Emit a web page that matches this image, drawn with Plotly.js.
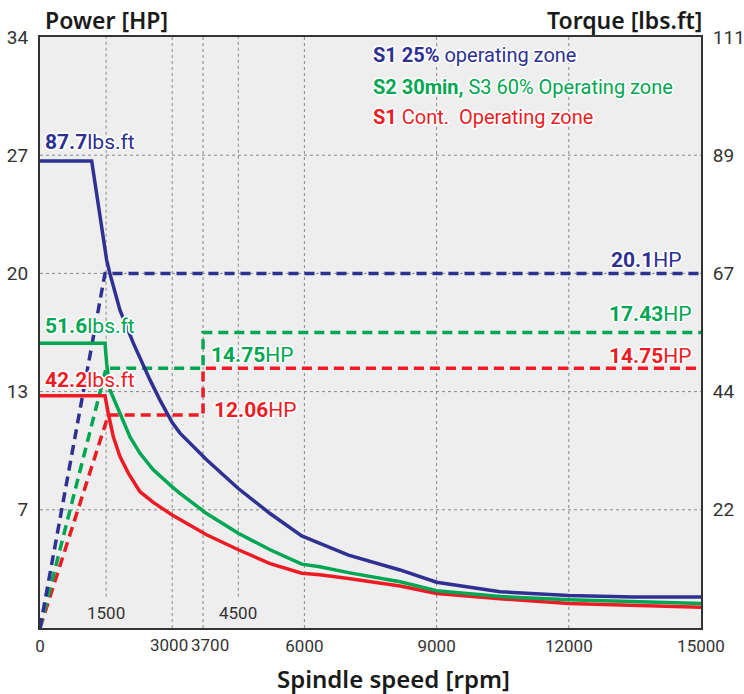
<!DOCTYPE html>
<html>
<head>
<meta charset="utf-8">
<script src="https://cdn.plot.ly/plotly-3.0.1.min.js"></script>
<style>body{margin:0;background:#fff}#chart{width:744px;height:694px}</style>
</head>
<body>
<div id="chart"></div>
<script>
// ---- data ----
const speedTorqueS1 = [0,1173,1513,1588,1815,2118,2496,2723,3000,3177,3780,4500,5220,5940,6350,7000,8170,9000,10440,12000,13460,15000];
const torqueS1 = [87.7,87.7,69.1,66.5,59.7,53.5,46.6,42.8,38.6,36.6,31.6,26.2,21.5,17.3,15.9,13.7,10.9,8.6,6.8,6.1,5.8,5.8];
const speedTorqueS2 = [0,1475,1513,1588,1815,2042,2269,2571,3000,3177,3780,4500,5220,5940,6350,7000,8170,9000,10440,12000,15000];
const torqueS2 = [53.5,53.5,49.7,44.7,40.3,35.9,32.8,29.7,26.5,25.3,21.5,17.8,14.7,12.0,11.5,10.4,8.7,7.0,5.9,5.3,4.6];
const speedTorqueCont = [0,1475,1550,1664,1815,2004,2269,2571,3000,3780,4500,5220,5940,6350,7000,8170,9000,10440,12000,15000];
const torqueCont = [43.6,43.6,40.3,35.9,32.2,29.1,25.6,23.6,21.2,17.5,14.7,12.1,10.3,10.0,9.3,7.9,6.5,5.5,4.6,3.9];

const speedPowerS1 = [0,1475,15000];
const powerS1 = [0,20.4,20.4];
const speedPowerS2 = [0,1500,3700,3700,15000];
const powerS2 = [0,14.94,14.94,17.0,17.0];
const speedPowerCont = [0,1550,3700,3700,15000];
const powerCont = [0,12.25,12.25,14.94,14.94];

const xTickVals = [0,6000,9000,12000,15000];
const xTickText = ['0','6000','9000','12000','15000'];
const xCloseTicks = [3000,3700];
const xInnerTicks = [1500,4500];
const xGrid = [1500,3000,3700,4500,6000,9000,12000];
const powerTickVals = [6.8,13.6,20.4,27.2,34];
const powerTickText = ['7','13','20','27','34'];
const torqueTickVals = [22.2,44.4,66.6,88.8,111];
const torqueTickText = ['22','44','67','89','111'];

// ---- styles ----
const BLUE = '#2e3192', GREEN = '#00a651', RED = '#ed1c24';
const FONT = '"Roboto", "Noto Sans", sans-serif';
const TITLEFONT = '"Noto Sans", "Open Sans", sans-serif';
const HALO = '1px 1px 0 #fff, -1px -1px 0 #fff, 1px -1px 0 #fff, -1px 1px 0 #fff, 0 2px 0 #fff, 0 -2px 0 #fff, 2px 0 0 #fff, -2px 0 0 #fff';
const DASH = '10px,6px';
const TICKFONT = {family:FONT, size:17, color:'#333'};

const traces = [
  {x: speedPowerCont, y: powerCont, mode:'lines', line:{color:RED, width:3.5, dash:DASH}, yaxis:'y'},
  {x: speedPowerS2, y: powerS2, mode:'lines', line:{color:GREEN, width:3.5, dash:DASH}, yaxis:'y'},
  {x: speedPowerS1, y: powerS1, mode:'lines', line:{color:BLUE, width:3.5, dash:DASH}, yaxis:'y'},
  {x: speedTorqueCont, y: torqueCont, mode:'lines', line:{color:RED, width:3.5}, yaxis:'y2'},
  {x: speedTorqueS2, y: torqueS2, mode:'lines', line:{color:GREEN, width:3.5}, yaxis:'y2'},
  {x: speedTorqueS1, y: torqueS1, mode:'lines', line:{color:BLUE, width:3.5}, yaxis:'y2'}
];

const shapes = [];
xGrid.forEach(v => {
  shapes.push({type:'line', xref:'x', yref:'y', x0:v, x1:v, y0: xInnerTicks.includes(v) ? 1.8 : 0, y1:34,
    line:{color:'#888', width:1, dash:'3px,3px'}, layer:'below'});
});
powerTickVals.slice(0,4).forEach(v => {
  shapes.push({type:'line', xref:'x', yref:'y', x0:0, x1:15000, y0:v, y1:v,
    line:{color:'#888', width:1, dash:'3px,3px'}, layer:'below'});
});

function ann(text, x, y, color, xanchor, size, extra) {
  return Object.assign({text, x, y, xref:'paper', yref:'paper', xanchor, yanchor:'middle', showarrow:false,
    font:{family:FONT, size:size, color:color, shadow:HALO}}, extra||{});
}
// paper coords helpers: plot area x 40..701, y 37..628
const px = p => (p-40)/661;
const py = p => (628-p)/591;

const annotations = [
  {text:'Power [HP]', x:px(43), y:py(20), xref:'paper', yref:'paper', xanchor:'left', yanchor:'middle', showarrow:false, font:{family:TITLEFONT, size:23, weight:600, color:'#1a1a1a'}},
  {text:'Torque [lbs.ft]', x:px(704), y:py(20), xref:'paper', yref:'paper', xanchor:'right', yanchor:'middle', showarrow:false, font:{family:TITLEFONT, size:23, weight:600, color:'#1a1a1a'}},
  {text:'Spindle speed [rpm]', x:px(393), y:py(678), xref:'paper', yref:'paper', xanchor:'center', yanchor:'middle', showarrow:false, font:{family:TITLEFONT, size:24, weight:600, color:'#1a1a1a'}},
  {text:String(xInnerTicks[0]), x:xInnerTicks[0], y:py(613), xref:'x', yref:'paper', xanchor:'center', yanchor:'middle', showarrow:false, font:TICKFONT},
  {text:String(xInnerTicks[1]), x:xInnerTicks[1], y:py(613), xref:'x', yref:'paper', xanchor:'center', yanchor:'middle', showarrow:false, font:TICKFONT},
  {text:String(xCloseTicks[0]), x:xCloseTicks[0], y:py(645), xref:'x', yref:'paper', xanchor:'center', yanchor:'middle', xshift:-3, showarrow:false, font:TICKFONT},
  {text:String(xCloseTicks[1]), x:xCloseTicks[1], y:py(645), xref:'x', yref:'paper', xanchor:'center', yanchor:'middle', xshift:7, showarrow:false, font:TICKFONT},
  ann('<b>S1 25%</b> operating zone', px(371), py(55), BLUE, 'left', 20),
  ann('<b>S2 30min,</b> S3 60% Operating zone', px(371), py(87), GREEN, 'left', 20),
  ann('<b>S1</b> Cont.  Operating zone', px(371), py(117), RED, 'left', 20),
  ann('<b>87.7</b>lbs.ft', px(43), py(142), BLUE, 'left', 21),
  ann('<b>51.6</b>lbs.ft', px(43), py(326), GREEN, 'left', 21),
  ann('<b>42.2</b>lbs.ft', px(43), py(380), RED, 'left', 21),
  ann('<b>20.1</b>HP', px(683), py(260), BLUE, 'right', 21),
  ann('<b>17.43</b>HP', px(694), py(314), GREEN, 'right', 21),
  ann('<b>14.75</b>HP', px(694), py(356), RED, 'right', 21),
  ann('<b>14.75</b>HP', px(209), py(355), GREEN, 'left', 21),
  ann('<b>12.06</b>HP', px(212), py(410), RED, 'left', 21)
];

const layout = {
  width:744, height:694,
  margin:{l:40, r:43, t:37, b:66},
  paper_bgcolor:'#fff', plot_bgcolor:'#eeeeee',
  showlegend:false,
  font:{family:FONT, color:'#333'},
  xaxis:{range:[0,15000], tickvals:xTickVals, ticktext:xTickText, tickangle:0, showgrid:false, zeroline:false,
    showline:true, mirror:true, linecolor:'#333', linewidth:2, ticks:'', ticklabelstandoff:2,
    tickfont:TICKFONT},
  yaxis:{range:[0,34], tickvals:powerTickVals, ticktext:powerTickText, showgrid:false, zeroline:false,
    showline:true, mirror:true, linecolor:'#333', linewidth:2, ticks:'', ticklabelstandoff:6,
    tickfont:{family:FONT, size:19, color:'#333'}},
  yaxis2:{range:[0,111], overlaying:'y', side:'right', tickvals:torqueTickVals, ticktext:torqueTickText,
    showgrid:false, zeroline:false, showline:true, linecolor:'#333', linewidth:2, ticks:'', ticklabelstandoff:6,
    tickfont:{family:FONT, size:19, color:'#333'}},
  shapes, annotations
};

Plotly.newPlot('chart', traces, layout, {staticPlot:true, displayModeBar:false});
</script>
</body>
</html>
